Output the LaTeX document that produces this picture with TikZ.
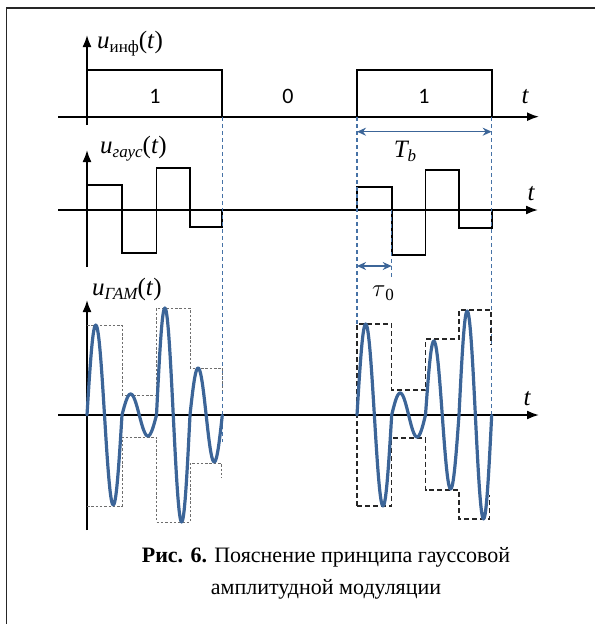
\documentclass[tikz,border=0pt]{standalone}
\usepackage{fontspec}
\setmainfont{Liberation Serif}
\newfontfamily\numfont{Carlito}
\usetikzlibrary{arrows.meta}
\definecolor{cWave}{HTML}{3C6598}
\definecolor{cGuide}{HTML}{4672A6}
\definecolor{cEnv}{HTML}{6E6E6E}

\begin{document}
\begin{tikzpicture}[
    x=1pt, y=-1pt,
    axis/.style={-{Latex[length=12pt, width=9pt]}, line width=1.8pt},
    sig/.style={line width=1.8pt, line join=miter},
    wave/.style={draw=cWave, line width=3.2pt, line join=round, line cap=round},
    guide/.style={draw=cGuide, line width=1.1pt, dash pattern=on 4pt off 3pt},
    envA/.style={draw=cEnv, line width=0.8pt, dash pattern=on 2.5pt off 1.8pt},
    envB/.style={draw=black!85, line width=1.3pt, dash pattern=on 5pt off 3pt},
    dim/.style={{Stealth[length=9pt, width=8pt]}-{Stealth[length=9pt, width=8pt]},
                draw=cWave, line width=1.5pt},
    lbl/.style={font=\fontsize{25}{28}\selectfont, inner sep=0pt, anchor=base west},
    tl/.style={font=\fontsize{25}{28}\selectfont\itshape, inner sep=0pt, anchor=base},
    num/.style={font=\numfont\fontsize{22}{26}\selectfont, inner sep=0pt, anchor=base},
]
\useasboundingbox (0,0) rectangle (595,624);

% ===================== Рамка =====================
\draw[line width=1.3pt, black!85] (6.5,624) -- (6.5,8) -- (595,8);

% ===================== Информационный сигнал =====================
\draw[axis] (87,125) -- (87,35);
\draw[axis] (58,116.7) -- (539,116.7);
\node[lbl] (uinf) at (97,48)
      {\textit{u}\raisebox{-0.35ex}{\fontsize{17}{17}\selectfont инф}(\textit{t})};
\node[tl] (t1) at (525,103) {t};
\draw[sig] (87,116.7) -- (87,70) -- (222.3,70) -- (222.3,116.7);
\draw[sig] (357,116.7) -- (357,70) -- (491.7,70) -- (491.7,116.7);
\node[num] (b1) at (155,103) {1};
\node[num] (b0) at (288,103) {0};
\node[num] (b2) at (424,103) {1};

% ===================== Гауссов сигнал =====================
\draw[axis] (87,267) -- (87,150);
\draw[axis] (58,210) -- (538,210);
\node[lbl] (ugaus) at (100,153)
      {\textit{u}\raisebox{-0.35ex}{\fontsize{17}{17}\selectfont\itshape гаус}(\textit{t})};
\node[tl] (t2) at (531,200) {t};
\draw[sig] (87,210) -- (87,185) -- (122,185) -- (122,253) -- (156.5,253)
      -- (156.5,168) -- (190,168) -- (190,227) -- (222.3,227) -- (222.3,210);
\draw[sig] (357,210) -- (357,187) -- (391.7,187) -- (391.7,255) -- (425.5,255)
      -- (425.5,170) -- (459,170) -- (459,228) -- (491.7,228) -- (491.7,210);

% ===================== Границы битов =====================
\draw[guide] (222.3,117) -- (222.3,442);
\draw[guide] (357,117) -- (357,324);
\draw[guide] (491.7,117) -- (491.7,415);
\draw[guide] (391.7,210) -- (391.7,277);

\draw[dim] (357,131.7) -- (491.7,131.7);
\node[tl] (Tb) at (405,157) {T\raisebox{-0.35ex}{\fontsize{17}{17}\selectfont b}};
\draw[dim] (357,266) -- (391.7,266);
\node[tl] (tau) at (383,296) {$\tau$\raisebox{-0.35ex}{\fontsize{17}{17}\selectfont\upshape 0}};

% ===================== ГАМ сигнал =====================
\draw[axis] (87,530) -- (87,300);
\draw[axis] (58,415) -- (539,415);
\node[lbl] (ugam) at (92,295)
      {\textit{u}\raisebox{-0.35ex}{\fontsize{17}{17}\selectfont\itshape ГАМ}(\textit{t})};
\node[tl] (t3) at (527,405) {t};

% огибающие
\draw[envA] (87,325) -- (122,325) -- (122,395) -- (156.5,395) -- (156.5,308)
      -- (190,308) -- (190,368) -- (222.3,368) -- (222.3,390);
\draw[envA] (87,506) -- (122,506) -- (122,437) -- (156.5,437) -- (156.5,522)
      -- (190,522) -- (190,463) -- (221,463) -- (221,478);
\draw[envB] (357,506) -- (357,324) -- (391.7,324) -- (391.7,390) -- (425.5,390)
      -- (425.5,339) -- (459,339) -- (459,310) -- (491,310) -- (491,345);
\draw[envB] (357,506) -- (391.7,506) -- (391.7,438) -- (425.5,438) -- (425.5,490)
      -- (459,490) -- (459,519) -- (489.5,519) -- (489.5,495);

% несущая
\draw[wave] (87,415) foreach \a/\b/\c in {87/122/90, 122/156.5/21, 156.5/190/107, 190/222.3/47}
      { -- plot[domain=0:1, samples=41, smooth] ({\a+(\b-\a)*\x}, {415-\c*sin(360*\x)}) };
\draw[wave] (357,415) foreach \a/\b/\c in {357/391.7/91, 391.7/425.5/22, 425.5/459/74, 459/491.7/104}
      { -- plot[domain=0:1, samples=41, smooth] ({\a+(\b-\a)*\x}, {415-\c*sin(360*\x)}) };

% ===================== Подпись =====================
\node[font=\fontsize{22}{32}\selectfont, align=center, anchor=base] (cap) at (326,594)
      {\textbf{Рис. 6.} Пояснение принципа гауссовой\\амплитудной модуляции};

\end{tikzpicture}
\end{document}
